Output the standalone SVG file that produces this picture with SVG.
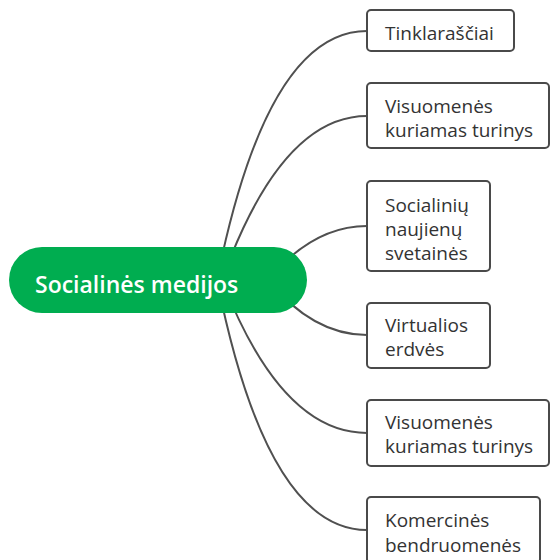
<svg xmlns="http://www.w3.org/2000/svg" width="550" height="560" viewBox="0 0 550 560">
<style>
.conn{fill:none;stroke:#505050;stroke-width:2}
.box{fill:#fff;stroke:#4a4a4a;stroke-width:2}
.t{font-family:"Open Sans","Noto Sans",sans-serif;font-size:19px;fill:#333}
.main{font-family:"Open Sans","Noto Sans",sans-serif;font-size:23px;font-weight:600;fill:#fff}
</style>
<rect width="550" height="560" fill="#fff"/>
<g id="connectors">
<path class="conn" d="M217,280 Q267,31 367,31"/>
<path class="conn" d="M222,280 Q281,116 367,116"/>
<path class="conn" d="M268,280 Q313,226 367,226"/>
<path class="conn" d="M268,280 Q313,335 367,335"/>
<path class="conn" d="M222,280 Q281,433 367,433"/>
<path class="conn" d="M217,280 Q267,530 367,530"/>
</g>
<g id="center">
<rect x="9" y="247" width="298" height="66" rx="33" fill="#00AD50"/>
<text class="main" x="35" y="293">Socialinės medijos</text>
</g>
<g id="n1">
<rect class="box" x="367" y="10" width="147" height="41" rx="4"/>
<text class="t" x="385" y="40">Tinklaraščiai</text>
</g>
<g id="n2">
<rect class="box" x="367" y="83" width="182" height="65" rx="4"/>
<text class="t" x="385" y="113">Visuomenės</text>
<text class="t" x="385" y="137">kuriamas turinys</text>
</g>
<g id="n3">
<rect class="box" x="367" y="181" width="123" height="90" rx="4"/>
<text class="t" x="385" y="212">Socialinių</text>
<text class="t" x="385" y="236">naujienų</text>
<text class="t" x="385" y="260">svetainės</text>
</g>
<g id="n4">
<rect class="box" x="367" y="303" width="123" height="65" rx="4"/>
<text class="t" x="385" y="332">Virtualios</text>
<text class="t" x="385" y="356">erdvės</text>
</g>
<g id="n5">
<rect class="box" x="367" y="400" width="182" height="66" rx="4"/>
<text class="t" x="385" y="429">Visuomenės</text>
<text class="t" x="385" y="453">kuriamas turinys</text>
</g>
<g id="n6">
<rect class="box" x="367" y="497" width="173" height="66" rx="4"/>
<text class="t" x="385" y="527">Komercinės</text>
<text class="t" x="385" y="552">bendruomenės</text>
</g>
</svg>
